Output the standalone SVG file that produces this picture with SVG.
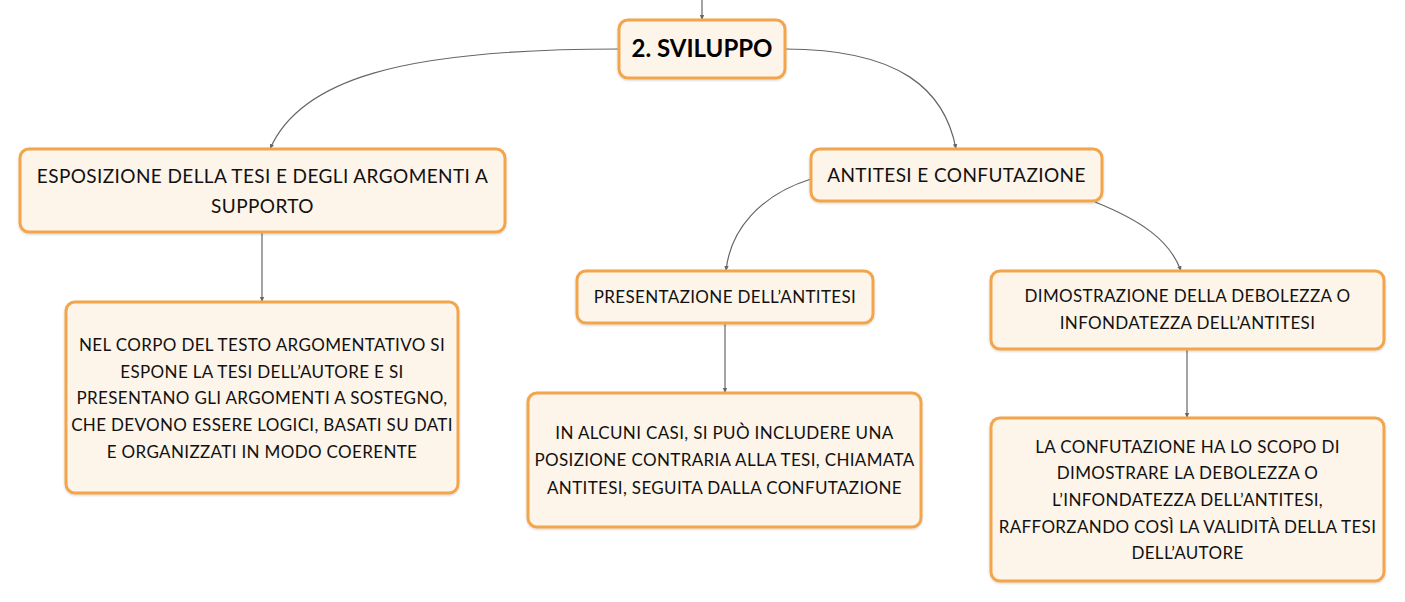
<svg xmlns="http://www.w3.org/2000/svg" width="1405" height="602" viewBox="0 0 1405 602">
<defs>
<marker id="arr" viewBox="0 0 6 6" refX="5" refY="3" markerWidth="6" markerHeight="6" orient="auto" markerUnits="userSpaceOnUse">
<path d="M0,0.8 L5,3 L0,5.2 z" fill="#666"/>
</marker>
<filter id="sh" x="-5%" y="-5%" width="110%" height="120%">
<feDropShadow dx="0" dy="1" stdDeviation="1.2" flood-color="#000" flood-opacity="0.18"/>
</filter>
</defs>
<style>
.box{fill:#fdf4ea;stroke:#f2a54c;stroke-width:3;filter:url(#sh)}
.t{font-family:Lato,"Noto Sans","DejaVu Sans",sans-serif;font-size:17px;letter-spacing:0.35px;fill:#111;text-anchor:middle}
.tl{font-size:19px;letter-spacing:0.4px}
.tb{font-family:Lato,"Noto Sans","DejaVu Sans",sans-serif;font-size:24px;font-weight:bold;fill:#000;text-anchor:middle}
.c{fill:none;stroke:#666;stroke-width:1.2;marker-end:url(#arr)}
</style>
<rect width="1405" height="602" fill="#fff"/>
<g id="connectors">
<path class="c" d="M702,0 V20"/>
<path class="c" d="M619,49 C400,49 300,80 270,149"/>
<path class="c" d="M785,49 C900,49 945,90 956,149"/>
<path class="c" d="M262,232 V302"/>
<path class="c" d="M811,179 C760,195 730,230 726,271"/>
<path class="c" d="M1095,202 C1140,220 1170,240 1181,271"/>
<path class="c" d="M725,323 V393"/>
<path class="c" d="M1187,349 V418"/>
</g>
<g id="sviluppo">
<rect class="box" x="619" y="20" width="166" height="58" rx="9"/>
<text class="tb" x="702" y="57">2. SVILUPPO</text>
</g>
<g id="esposizione">
<rect class="box" x="20" y="149" width="485" height="83" rx="9"/>
<text class="t tl" x="262.5" y="183">ESPOSIZIONE DELLA TESI E DEGLI ARGOMENTI A</text>
<text class="t tl" x="262.5" y="213">SUPPORTO</text>
</g>
<g id="antitesi">
<rect class="box" x="811" y="149" width="291" height="52" rx="9"/>
<text class="t tl" x="956.5" y="182">ANTITESI E CONFUTAZIONE</text>
</g>
<g id="presentazione">
<rect class="box" x="577" y="271" width="296" height="52" rx="9"/>
<text class="t" x="725" y="303">PRESENTAZIONE DELL’ANTITESI</text>
</g>
<g id="dimostrazione">
<rect class="box" x="991" y="271" width="393" height="78" rx="9"/>
<text class="t" x="1187.5" y="302">DIMOSTRAZIONE DELLA DEBOLEZZA O</text>
<text class="t" x="1187.5" y="329">INFONDATEZZA DELL’ANTITESI</text>
</g>
<g id="nelcorpo">
<rect class="box" x="66" y="302" width="392" height="191" rx="9"/>
<text class="t" x="262" y="351">NEL CORPO DEL TESTO ARGOMENTATIVO SI</text>
<text class="t" x="262" y="378">ESPONE LA TESI DELL’AUTORE E SI</text>
<text class="t" x="262" y="404">PRESENTANO GLI ARGOMENTI A SOSTEGNO,</text>
<text class="t" x="262" y="431">CHE DEVONO ESSERE LOGICI, BASATI SU DATI</text>
<text class="t" x="262" y="458">E ORGANIZZATI IN MODO COERENTE</text>
</g>
<g id="alcunicasi">
<rect class="box" x="528" y="393" width="393" height="134" rx="9"/>
<text class="t" x="724.5" y="439">IN ALCUNI CASI, SI PUÒ INCLUDERE UNA</text>
<text class="t" x="724.5" y="466">POSIZIONE CONTRARIA ALLA TESI, CHIAMATA</text>
<text class="t" x="724.5" y="494">ANTITESI, SEGUITA DALLA CONFUTAZIONE</text>
</g>
<g id="confutazione">
<rect class="box" x="991" y="418" width="393" height="163" rx="9"/>
<text class="t" x="1187.5" y="453">LA CONFUTAZIONE HA LO SCOPO DI</text>
<text class="t" x="1187.5" y="479">DIMOSTRARE LA DEBOLEZZA O</text>
<text class="t" x="1187.5" y="506">L’INFONDATEZZA DELL’ANTITESI,</text>
<text class="t" x="1187.5" y="533">RAFFORZANDO COSÌ LA VALIDITÀ DELLA TESI</text>
<text class="t" x="1187.5" y="559">DELL’AUTORE</text>
</g>
</svg>
